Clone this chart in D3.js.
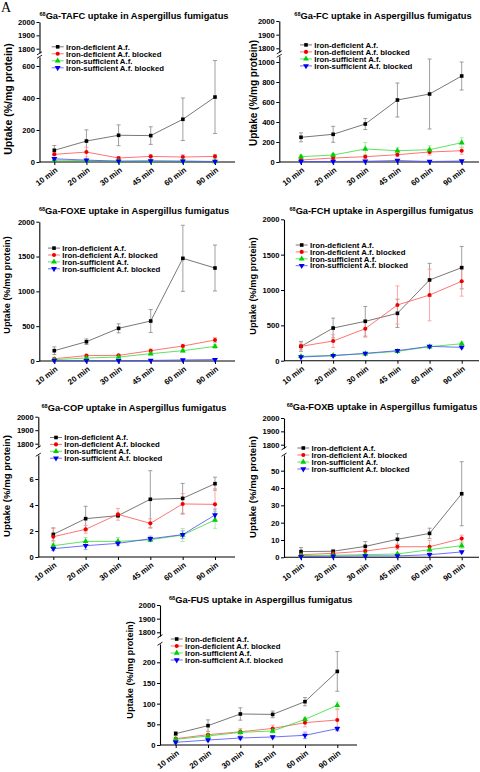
<!DOCTYPE html>
<html><head><meta charset="utf-8">
<script src="https://cdn.jsdelivr.net/npm/d3@7"></script>
<style>
body{margin:0;background:#fff}
svg{display:block}
text{font-family:"Liberation Sans",Arial,sans-serif;font-weight:bold;fill:#000}
</style>
</head><body>
<svg id="chart" width="480" height="772"></svg>
<script>
// ---------------- DATA ----------------
const categories = ["10 min", "20 min", "30 min", "45 min", "60 min", "90 min"];
const seriesNames = ["Iron-deficient A.f.", "Iron-deficient A.f. blocked", "Iron-sufficient A.f.", "Iron-sufficient A.f. blocked"];
const upperTicks = [1800, 1900, 2000];

const tafcTitle = "Ga-TAFC uptake in Aspergillus fumigatus";
const tafcTicks = [0, 200, 400, 600];
const tafcMeans = [
  [73, 131, 167, 165, 267, 406],
  [48, 62, 25, 35, 31, 35],
  [12, 8, 5, 5, 5, 3],
  [20, 12, 5, 7, 5, 3]
];
const tafcErrs = [
  [30, 70, 65, 55, 133, 228],
  [10, 30, 8, 10, 15, 12],
  [5, 4, 3, 3, 3, 2],
  [5, 4, 3, 3, 3, 2]
];

const fcTitle = "Ga-FC uptake in Aspergillus fumigatus";
const fcTicks = [0, 200, 400, 600, 800, 1000];
const fcMeans = [
  [247, 277, 380, 620, 680, 860],
  [20, 40, 53, 73, 100, 113],
  [53, 70, 130, 113, 123, 193],
  [5, 5, 7, 15, 5, 10]
];
const fcErrs = [
  [45, 80, 55, 170, 350, 140],
  [10, 15, 20, 20, 30, 35],
  [15, 15, 65, 30, 40, 50],
  [3, 3, 3, 5, 3, 5]
];

const foxeTitle = "Ga-FOXE uptake in Aspergillus fumigatus";
const foxeTicks = [0, 500, 1000, 1500, 2000];
const foxeMeans = [
  [148, 277, 469, 574, 1474, 1335],
  [33, 77, 81, 148, 215, 301],
  [19, 43, 57, 105, 148, 210],
  [5, 5, 5, 8, 15, 20]
];
const foxeErrs = [
  [55, 40, 65, 165, 475, 330],
  [10, 10, 10, 25, 25, 35],
  [5, 10, 10, 15, 20, 30],
  [3, 3, 3, 3, 5, 5]
];

const fchTitle = "Ga-FCH uptake in Aspergillus fumigatus";
const fchTicks = [0, 500, 1000, 1500, 2000];
const fchMeans = [
  [203, 462, 557, 670, 1142, 1316],
  [203, 278, 453, 788, 929, 1123],
  [61, 75, 99, 132, 198, 240],
  [52, 71, 104, 142, 203, 189]
];
const fchErrs = [
  [70, 140, 210, 200, 235, 300],
  [50, 90, 120, 270, 365, 210],
  [10, 10, 10, 10, 15, 20],
  [10, 10, 10, 10, 15, 15]
];

const copTitle = "Ga-COP uptake in Aspergillus fumigatus";
const copTicks = [0, 2, 4, 6];
const copMeans = [
  [1.74, 2.95, 3.18, 4.44, 4.51, 5.64],
  [1.56, 2.13, 3.28, 2.59, 4.08, 4.05],
  [0.87, 1.2, 1.2, 1.33, 1.69, 2.85],
  [0.64, 0.87, 1.05, 1.4, 1.72, 3.23]
];
const copErrs = [
  [0.5, 0.95, 0.1, 2.2, 1.15, 0.5],
  [0.65, 0.3, 0.45, 0.35, 0.8, 1.2],
  [0.2, 0.3, 0.3, 0.15, 0.5, 0.65],
  [0.15, 0.3, 0.15, 0.2, 0.3, 0.45]
];

const foxbTitle = "Ga-FOXB uptake in Aspergillus fumigatus";
const foxbTicks = [0, 10, 20, 30, 40, 50];
const foxbMeans = [
  [3.3, 3.5, 6.3, 10.4, 13.8, 36.7],
  [1.5, 2.3, 3.6, 6.1, 6.1, 10.8],
  [1, 1.2, 1.5, 1.9, 4.4, 6.7],
  [0.4, 0.6, 0.8, 0.8, 1.5, 3.1]
];
const foxbErrs = [
  [2.3, 0.5, 2.8, 3.2, 3, 18.5],
  [0.8, 0.5, 0.8, 1.5, 3.5, 2],
  [0.3, 0.3, 0.3, 0.5, 0.8, 1.5],
  [0.2, 0.2, 0.2, 0.2, 0.4, 0.6]
];

const fusTitle = "Ga-FUS uptake in Aspergillus fumigatus";
const fusTicks = [0, 50, 100, 150, 200];
const fusMeans = [
  [27.4, 46.8, 75, 74, 104.8, 178],
  [15.3, 25, 32, 40, 54, 60.5],
  [13.7, 21.8, 30.6, 33.9, 62, 96],
  [6.5, 12, 17, 19.4, 23.4, 39.5]
];
const fusErrs = [
  [5, 14, 15, 8, 10, 48],
  [3, 8, 8, 8, 10, 25],
  [3, 6, 6, 5, 5, 8],
  [2, 3, 4, 3, 8, 5]
];

// ---------------- STYLE / LAYOUT ----------------
const seriesStyle = [
  {line: "#555", err: "#888", fill: "#000", sym: d3.symbolSquare, size: 13, rot: 0},
  {line: "#ff5050", err: "#ff9090", fill: "#ee0000", sym: d3.symbolCircle, size: 13, rot: 0},
  {line: "#33dd33", err: "#90ee90", fill: "#00d000", sym: d3.symbolTriangle, size: 15, rot: 0},
  {line: "#4a4aff", err: "#9090ff", fill: "#0000ee", sym: d3.symbolTriangle, size: 15, rot: 180}
];

const panels = [
  {title: tafcTitle, means: tafcMeans, errs: tafcErrs, ticks: tafcTicks,
   L: {axisX: 39.5, xFirst: 54.3, xLast: 215, xEnd: 235, yBase: 162, lowRef: [600, 66], lowTop: 57,
       up: [48.7, 22], upBottom: 53, titleX: 134, titleY: 18.5, ylabX: 8, ylabY: 99, ylabSize: 10.5,
       legX: 51.7, legY: [46.8, 53.8, 60.8, 67.8]}},
  {title: fcTitle, means: fcMeans, errs: fcErrs, ticks: fcTicks,
   L: {axisX: 279.3, xFirst: 301, xLast: 461.7, xEnd: 479, yBase: 162, lowRef: [1000, 62], lowTop: 56,
       up: [48.3, 21], upBottom: 52, titleX: 383, titleY: 18.5, ylabX: 253, ylabY: 93, ylabSize: 10,
       legX: 300, legY: [44.9, 51.9, 58.9, 65.9]}},
  {title: foxeTitle, means: foxeMeans, errs: foxeErrs, ticks: foxeTicks,
   L: {axisX: 39.3, xFirst: 54.3, xLast: 215, xEnd: 235, yBase: 361, lowRef: [2000, 221.7], lowTop: 221.7,
       titleX: 134, titleY: 213.5, ylabX: 7, ylabY: 285, ylabSize: 9.2,
       legX: 48, legY: [248.1, 255.0, 261.9, 268.8]}},
  {title: fchTitle, means: fchMeans, errs: fchErrs, ticks: fchTicks,
   L: {axisX: 284, xFirst: 301, xLast: 461.7, xEnd: 479, yBase: 360.7, lowRef: [2000, 219.3], lowTop: 219.3,
       titleX: 381.5, titleY: 213.5, ylabX: 253, ylabY: 286, ylabSize: 9.2,
       legX: 295.7, legY: [245, 251.9, 258.8, 265.7]}},
  {title: copTitle, means: copMeans, errs: copErrs, ticks: copTicks,
   L: {axisX: 38.3, xFirst: 53.3, xLast: 215, xEnd: 235, yBase: 557, lowRef: [6, 479], lowTop: 455,
       up: [443.7, 416.7], upBottom: 447, titleX: 134, titleY: 411, ylabX: 7, ylabY: 486, ylabSize: 9.6,
       legX: 50, legY: [437.5, 444.4, 451.3, 458.2]}},
  {title: foxbTitle, means: foxbMeans, errs: foxbErrs, ticks: foxbTicks,
   L: {axisX: 284, xFirst: 301, xLast: 461.7, xEnd: 479, yBase: 557.3, lowRef: [50, 470.7], lowTop: 455,
       up: [444.7, 418], upBottom: 448, titleX: 382, titleY: 409.5, ylabX: 253, ylabY: 487, ylabSize: 9.6,
       legX: 297.3, legY: [448, 455, 462, 469]}},
  {title: fusTitle, means: fusMeans, errs: fusErrs, ticks: fusTicks,
   L: {axisX: 160, xFirst: 175.7, xLast: 337.3, xEnd: 357, yBase: 745, lowRef: [200, 662.3], lowTop: 644,
       up: [632.3, 605], upBottom: 636, titleX: 260.8, titleY: 602.5, ylabX: 130, ylabY: 670, ylabSize: 9.2,
       legX: 170.7, legY: [639, 646, 653, 660]}}
];

const svg = d3.select("#chart");

svg.append("text").attr("x", 1).attr("y", 12)
  .style("font-family", "'Liberation Serif','Times New Roman',serif").style("font-weight", "normal")
  .style("font-size", "14px").text("A");

const fmt = d3.format("d");

function styleAxis(g) {
  g.selectAll("path.domain").attr("stroke", "#000").attr("stroke-width", 1.1);
  g.selectAll(".tick line").attr("stroke", "#000").attr("stroke-width", 1);
  g.selectAll(".tick text").style("font-size", "7.6px").style("font-weight", "bold")
    .style("font-family", "'Liberation Sans',Arial,sans-serif").attr("fill", "#000");
}

function drawPanel(p) {
  const L = p.L;
  const g = svg.append("g");
  const x = d3.scalePoint().domain(categories).range([L.xFirst, L.xLast]);
  const yRef = d3.scaleLinear().domain([0, L.lowRef[0]]).range([L.yBase, L.lowRef[1]]);
  const lowMax = yRef.invert(L.lowTop);
  const y = d3.scaleLinear().domain([0, lowMax]).range([L.yBase, L.lowTop]);

  // x axis line + ticks
  g.append("line").attr("x1", L.axisX).attr("x2", L.xEnd).attr("y1", L.yBase).attr("y2", L.yBase)
    .attr("stroke", "#000").attr("stroke-width", 1.1);
  const xa = g.append("g").attr("transform", `translate(0,${L.yBase})`)
    .call(d3.axisBottom(x).tickSize(3).tickSizeOuter(0));
  xa.select("path.domain").remove();
  styleAxis(xa);
  xa.selectAll(".tick text").style("font-size", "7.9px")
    .attr("text-anchor", "end").attr("dy", 0)
    .attr("transform", "translate(3.4,9.2) rotate(-37)").attr("y", 0).attr("x", 0);

  // y axis lower
  const ya = g.append("g").attr("transform", `translate(${L.axisX},0)`)
    .call(d3.axisLeft(y).tickValues(p.ticks).tickFormat(fmt).tickSize(3).tickSizeOuter(0).tickPadding(1.5));
  styleAxis(ya);

  // y axis upper (broken axis)
  if (L.up) {
    const yU0 = d3.scaleLinear().domain([1800, 2000]).range(L.up);
    const upMin = yU0.invert(L.upBottom);
    const yU = d3.scaleLinear().domain([upMin, 2000]).range([L.upBottom, L.up[1]]);
    const yua = g.append("g").attr("transform", `translate(${L.axisX},0)`)
      .call(d3.axisLeft(yU).tickValues(upperTicks).tickFormat(fmt).tickSize(3).tickSizeOuter(0).tickPadding(1.5));
    styleAxis(yua);
    // break marks
    [L.upBottom + 0.3, L.lowTop - 0.3].forEach(yy => {
      g.append("line").attr("x1", L.axisX - 2.5).attr("x2", L.axisX + 2.5)
        .attr("y1", yy + 1.6).attr("y2", yy - 1.6).attr("stroke", "#000").attr("stroke-width", 0.9);
    });
  }

  // title
  const t = g.append("text").attr("x", L.titleX).attr("y", L.titleY).attr("text-anchor", "middle")
    .style("font-size", "9.3px");
  t.append("tspan").text("68").style("font-size", "5.5px").attr("dy", "-3");
  t.append("tspan").text(p.title).attr("dy", "3");

  // y label
  g.append("text").attr("transform", `translate(${L.ylabX},${L.ylabY}) rotate(-90)`)
    .attr("text-anchor", "middle").attr("dy", "0.35em").style("font-size", L.ylabSize + "px")
    .text("Uptake (%/mg protein)");

  const line = d3.line().x((d, i) => x(categories[i])).y(d => y(d));

  // error bars
  p.means.forEach((m, s) => {
    const st = seriesStyle[s];
    const eg = g.append("g").attr("stroke", st.err).attr("stroke-width", 0.8);
    m.forEach((v, i) => {
      const e = p.errs[s][i];
      const cx = x(categories[i]);
      const y1 = y(v + e), y2 = y(Math.max(0, v - e));
      eg.append("line").attr("x1", cx).attr("x2", cx).attr("y1", y1).attr("y2", y2);
      eg.append("line").attr("x1", cx - 2).attr("x2", cx + 2).attr("y1", y1).attr("y2", y1);
      eg.append("line").attr("x1", cx - 2).attr("x2", cx + 2).attr("y1", y2).attr("y2", y2);
    });
  });
  // lines
  p.means.forEach((m, s) => {
    g.append("path").datum(m).attr("d", line).attr("fill", "none")
      .attr("stroke", seriesStyle[s].line).attr("stroke-width", 0.8);
  });
  // markers
  p.means.forEach((m, s) => {
    const st = seriesStyle[s];
    g.selectAll(null).data(m).enter().append("path")
      .attr("d", d3.symbol().type(st.sym).size(st.size))
      .attr("transform", (d, i) => `translate(${x(categories[i])},${y(d)}) rotate(${st.rot})`)
      .attr("fill", st.fill);
  });

  // legend
  seriesNames.forEach((name, s) => {
    const st = seriesStyle[s];
    const ly = L.legY[s];
    g.append("line").attr("x1", L.legX).attr("x2", L.legX + 12).attr("y1", ly).attr("y2", ly)
      .attr("stroke", st.line).attr("stroke-width", 0.8);
    g.append("path").attr("d", d3.symbol().type(st.sym).size(st.size))
      .attr("transform", `translate(${L.legX + 6},${ly}) rotate(${st.rot})`).attr("fill", st.fill);
    g.append("text").attr("x", L.legX + 14.3).attr("y", ly).attr("dy", "0.35em")
      .style("font-size", "7.8px").text(name);
  });
}

panels.forEach(drawPanel);
</script>
</body></html>
